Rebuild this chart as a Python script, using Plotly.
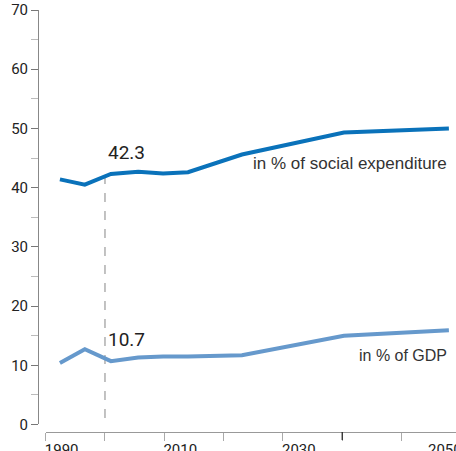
import plotly.graph_objects as go

YEARS = [1992.4, 1996.6, 2001.0, 2005.6, 2009.8, 2014.0, 2023.1, 2040.3, 2058.0]
SOCIAL_SHARE = [41.4, 40.5, 42.3, 42.7, 42.4, 42.6, 45.6, 49.3, 50.0]
GDP_SHARE = [10.4, 12.7, 10.7, 11.3, 11.5, 11.5, 11.7, 15.0, 15.9]

X_TICKS = [1990, 2000, 2010, 2020, 2030, 2040, 2050]
X_TICK_TEXT = ["1990", "", "2010", "", "2030", "", ""]
BASE_YEAR = 2000
BASE_IDX = 2

NARROW = "Roboto, Liberation Sans, sans-serif"
REGULAR = "Liberation Sans, Arial, sans-serif"

fig = go.Figure()
fig.add_trace(go.Scatter(x=YEARS, y=SOCIAL_SHARE, mode="lines",
                         line=dict(color="#0a72ba", width=4), name="social"))
fig.add_trace(go.Scatter(x=YEARS, y=GDP_SHARE, mode="lines",
                         line=dict(color="#6699cc", width=4), name="gdp"))

# dashed marker for the base year
fig.add_shape(type="line", xref="x", yref="y", x0=BASE_YEAR, x1=BASE_YEAR, y0=1.1, y1=43.3,
              line=dict(color="#999999", width=1.2, dash="dash"), layer="below")

# darker tick at 2040
fig.add_shape(type="line", xref="x", yref="paper", ysizemode="pixel", yanchor=0,
              x0=2040, x1=2040, y0=0, y1=-8, line=dict(color="#000000", width=1))

for val in (SOCIAL_SHARE[BASE_IDX], GDP_SHARE[BASE_IDX]):
    fig.add_annotation(x=BASE_YEAR, y=val, text=f"{val}", showarrow=False,
                       xanchor="left", yanchor="middle", xshift=1, yshift=22,
                       font=dict(family=NARROW, size=19, color="#222222"))

fig.add_annotation(x=YEARS[-1], y=SOCIAL_SHARE[-1], text="in % of social expenditure",
                   showarrow=False, xanchor="right", yanchor="middle", yshift=-35,
                   font=dict(family=REGULAR, size=17, color="#333333"))
fig.add_annotation(x=YEARS[-1], y=GDP_SHARE[-1], text="in % of GDP",
                   showarrow=False, xanchor="right", yanchor="middle", yshift=-25,
                   font=dict(family=REGULAR, size=16, color="#333333"))
fig.add_annotation(x=2057.3, xref="x", y=0, yref="paper", text="2050", showarrow=False,
                   xanchor="center", yanchor="top", yshift=-7,
                   font=dict(family=NARROW, size=15, color="#222222"))

fig.update_layout(
    width=456, height=451,
    margin=dict(l=38, r=0, t=10, b=19),
    plot_bgcolor="white", paper_bgcolor="white",
    showlegend=False,
    xaxis=dict(
        domain=[0.0184, 1], range=[1990, 2059.2], anchor="free", position=0,
        showgrid=False, zeroline=False, showline=True, linecolor="#999999", linewidth=1,
        tickmode="array", tickvals=X_TICKS, ticktext=X_TICK_TEXT,
        ticks="outside", ticklen=8, tickcolor="#aaaaaa", tickwidth=1,
        ticklabelshift=16, ticklabelstandoff=-4,
        tickfont=dict(family=NARROW, size=15, color="#222222"), automargin=False,
    ),
    yaxis=dict(
        domain=[0.0178, 1], range=[0, 70], anchor="free", position=0,
        showgrid=False, zeroline=False, showline=True, linecolor="#888888", linewidth=1,
        tickmode="linear", tick0=0, dtick=10,
        ticks="outside", ticklen=7, tickcolor="#777777", tickwidth=1,
        minor=dict(dtick=5, tick0=0, ticks="outside", ticklen=7, tickcolor="#bbbbbb"),
        tickfont=dict(family=NARROW, size=15, color="#222222"), automargin=False,
    ),
)

fig.write_html("out.html", config={"displayModeBar": False},
               post_script="document.body.style.margin='0';")
